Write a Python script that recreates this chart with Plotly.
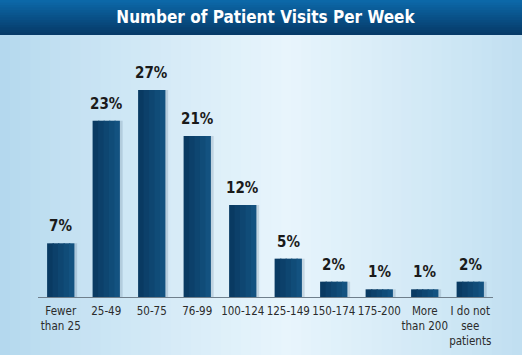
import plotly.graph_objects as go

categories = ["Fewer<br>than 25", "25-49", "50-75", "76-99", "100-124", "125-149",
              "150-174", "175-200", "More<br>than 200", "I do not<br>see<br>patients"]
values = [7, 23, 27, 21, 12, 5, 2, 1, 1, 2]
labels = [f"{v}%" for v in values]
title_text = "Number of Patient Visits Per Week"

FONT = "DejaVu Sans Condensed, Liberation Sans Narrow, Arial Narrow, Roboto, sans-serif"

W, H = 522, 355
L, R, T, B = 38, 29, 67, 58
PW, PH = W - L - R, H - T - B

def px_x(px):
    return (px - L) / PW

def px_y(py):
    return (H - B - py) / PH

def lerp(c1, c2, t):
    return "rgb({},{},{})".format(*[round(a + (b - a) * t) for a, b in zip(c1, c2)])

shapes = []
n = 52
edge = (178, 215, 237)
centre = (232, 245, 252)
for i in range(n):
    x0 = W * i / n
    x1 = W * (i + 1) / n + 1
    xm = (x0 + x1) / 2 / W
    t = 1 - abs(xm - 0.55) / 0.55
    t = max(0, min(1, t)) ** 0.8
    shapes.append(dict(type="rect", xref="paper", yref="paper",
                       x0=px_x(x0), x1=px_x(x1), y0=px_y(H), y1=px_y(35),
                       fillcolor=lerp(edge, centre, t), line=dict(width=0), layer="below"))
m = 14
top_c = (12, 104, 168)
bot_c = (6, 58, 104)
for i in range(m):
    y0 = 35 * i / m
    y1 = 35 * (i + 1) / m + 0.6
    shapes.append(dict(type="rect", xref="paper", yref="paper",
                       x0=px_x(0), x1=px_x(W), y0=px_y(min(y1, 35)), y1=px_y(y0),
                       fillcolor=lerp(top_c, bot_c, i / (m - 1)), line=dict(width=0), layer="below"))

xs = list(range(len(categories)))
fig = go.Figure()
fig.add_trace(go.Bar(x=xs, y=values, width=0.62, offset=-0.26,
                     marker=dict(color="rgba(40,70,100,0.16)", line=dict(width=0)),
                     hoverinfo="skip", showlegend=False))
strips = 5
dark = (9, 58, 98)
light = (19, 82, 128)
sw = 0.6 / strips
for k in range(strips):
    fig.add_trace(go.Bar(x=xs, y=values, width=sw + (0.03 if k < strips - 1 else 0),
                         offset=-0.3 + sw * k,
                         marker=dict(color=lerp(dark, light, k / (strips - 1)), line=dict(width=0)),
                         hoverinfo="skip", showlegend=False))

annotations = []
for x, v, lab in zip(xs, values, labels):
    annotations.append(dict(x=x, y=v, text=lab, showarrow=False, yanchor="bottom",
                            yshift=6, font=dict(family=FONT, size=15, color="#1a1a1a", weight="bold")))

fig.update_layout(
    width=W, height=H,
    margin=dict(l=L, r=R, t=T, b=B, autoexpand=False),
    barmode="overlay",
    paper_bgcolor="rgba(0,0,0,0)",
    plot_bgcolor="rgba(0,0,0,0)",
    shapes=shapes,
    annotations=annotations,
    title=dict(text=title_text, x=0.5, xref="paper", xanchor="center",
               y=1 - 17.5 / H, yref="container", yanchor="middle",
               font=dict(family=FONT, size=17, color="white", weight="bold")),
    xaxis=dict(tickmode="array", tickvals=xs, ticktext=categories, range=[-0.5, 9.5],
               tickangle=0, automargin=False,
               showline=True, linecolor="#6f7f8c", linewidth=1, showgrid=False,
               zeroline=False, ticks="", fixedrange=True, ticklabelstandoff=3,
               tickfont=dict(family=FONT, size=11.5, color="#2b2b2b")),
    yaxis=dict(range=[0, 30], visible=False, showgrid=False, zeroline=False, fixedrange=True),
)

fig.write_html("out.html", config={"displayModeBar": False},
               post_script="document.body.style.margin='0';document.body.style.overflow='hidden';")
